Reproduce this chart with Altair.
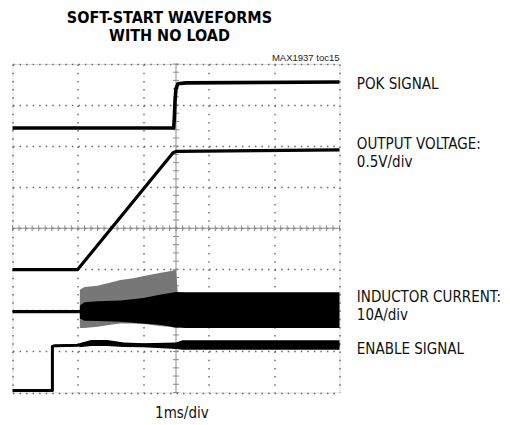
import altair as alt
import pandas as pd

# ---- traces, in scope divisions (x: 0..10 at 1ms/div, y: 0..8) ----
pok_x = [0, 4.93, 4.95, 4.97, 5.0, 5.06, 5.3, 10]
pok_y = [6.44, 6.44, 6.7, 7.1, 7.4, 7.52, 7.54, 7.56]

vout_x = [0, 1.98, 2.05, 4.91, 5.0, 10]
vout_y = [2.99, 2.99, 3.05, 5.84, 5.87, 5.91]

il_base_x = [0, 2.07]
il_base_y = [1.97, 1.97]

# inductor-current switching: spike envelope (grey) and dense core (black)
spike_x = [2.06, 2.2, 2.6, 3.0, 3.3, 3.7, 4.1, 4.5, 4.8, 5.0, 5.05]
spike_hi = [2.5, 2.57, 2.6, 2.68, 2.74, 2.78, 2.85, 2.91, 2.95, 2.99, 2.45]
spike_lo = [1.57, 1.57, 1.6, 1.65, 1.68, 1.68, 1.66, 1.62, 1.6, 1.57, 1.57]

core_x = [2.06, 2.2, 2.6, 3.3, 4.0, 4.5, 5.0, 5.3, 10]
core_hi = [2.12, 2.2, 2.22, 2.24, 2.3, 2.38, 2.45, 2.44, 2.44]
core_lo = [1.8, 1.75, 1.74, 1.72, 1.68, 1.65, 1.58, 1.57, 1.57]

en_x = [0, 1.22, 1.22, 1.3, 2.0, 2.4, 2.9, 3.4, 4.0, 5.0, 10]
en_y = [0.05, 0.05, 1.12, 1.14, 1.15, 1.21, 1.21, 1.17, 1.15, 1.15, 1.15]

en_band_x = [2.05, 2.4, 2.9, 3.4, 4.0, 5.0, 5.2, 10]
en_band_hi = [1.2, 1.28, 1.28, 1.22, 1.2, 1.22, 1.27, 1.27]
en_band_lo = [1.1, 1.13, 1.13, 1.11, 1.1, 1.06, 1.04, 1.04]

# ---- text ----
title_lines = ["SOFT-START WAVEFORMS", "WITH NO LOAD"]
title_x = [4.80, 4.80]
title_y = [9.12, 8.67]
label_text = ["POK SIGNAL", "OUTPUT VOLTAGE:", "0.5V/div",
              "INDUCTOR CURRENT:", "10A/div", "ENABLE SIGNAL"]
label_x = [10.53] * 6
label_y = [7.52, 6.04, 5.62, 2.33, 1.89, 1.06]
note_text = ["MAX1937 toc15"]
note_x = [10.0]
note_y = [8.14]
xlabel_text = ["1ms/div"]
xlabel_x = [5.18]
xlabel_y = [-0.5]

grid_x = list(range(0, 11))
grid_y = list(range(0, 9))
minor_x = [i / 5 for i in range(0, 51)]
minor_y = [i / 5 for i in range(0, 41)]

NARROW = "DejaVu Sans Condensed"

xs = alt.Scale(domain=[0, 10], nice=False, zero=False)
ys = alt.Scale(domain=[0, 8], nice=False, zero=False)


def line_df(xv, yv):
    return pd.DataFrame({"x": xv, "y": yv, "i": list(range(len(xv)))})


xaxis = alt.Axis(values=grid_x, grid=True, labels=False, ticks=False, domain=False,
                 title=None, gridDash=[1.5, 6.7], gridColor="#666", gridWidth=1.4)
yaxis = alt.Axis(values=grid_y, grid=True, labels=False, ticks=False, domain=False,
                 title=None, gridDash=[1.5, 5.04], gridColor="#666", gridWidth=1.4)

grid = alt.Chart(pd.DataFrame({"x": [0, 10], "y": [0, 8]})).mark_point(opacity=0).encode(
    x=alt.X("x:Q", scale=xs, axis=xaxis), y=alt.Y("y:Q", scale=ys, axis=yaxis))

# centre cross-hair with minor ticks
cross_v = alt.Chart(pd.DataFrame({"x": [5], "y": [0], "y2": [8]})).mark_rule(
    color="#8a8a8a", strokeWidth=1).encode(x=alt.X("x:Q", scale=xs), y=alt.Y("y:Q", scale=ys), y2="y2")
cross_h = alt.Chart(pd.DataFrame({"y": [4], "x": [0], "x2": [10]})).mark_rule(
    color="#8a8a8a", strokeWidth=1).encode(y=alt.Y("y:Q", scale=ys), x=alt.X("x:Q", scale=xs), x2="x2")
ticks_h = alt.Chart(pd.DataFrame({"x": minor_x})).mark_rule(color="#8a8a8a", strokeWidth=1).encode(
    x=alt.X("x:Q", scale=xs), y=alt.datum(3.93, scale=ys), y2=alt.datum(4.07))
ticks_v = alt.Chart(pd.DataFrame({"y": minor_y})).mark_rule(color="#8a8a8a", strokeWidth=1).encode(
    y=alt.Y("y:Q", scale=ys), x=alt.datum(4.91, scale=xs), x2=alt.datum(5.09))


def trace(xv, yv, w=3.2):
    return alt.Chart(line_df(xv, yv)).mark_line(color="black", strokeWidth=w, strokeJoin="round").encode(
        x=alt.X("x:Q", scale=xs), y=alt.Y("y:Q", scale=ys), order="i:Q")


def band(xv, lo, hi, color):
    return alt.Chart(pd.DataFrame({"x": xv, "lo": lo, "hi": hi})).mark_area(
        color=color, interpolate="linear").encode(
        x=alt.X("x:Q", scale=xs), y=alt.Y("lo:Q", scale=ys), y2="hi:Q")


def texts(t, xv, yv, **kw):
    return alt.Chart(pd.DataFrame({"t": t, "x": xv, "y": yv})).mark_text(**kw).encode(
        x=alt.X("x:Q", scale=xs), y=alt.Y("y:Q", scale=ys), text="t:N")


title = texts(title_lines, title_x, title_y, align="center", baseline="middle", font=NARROW,
              fontSize=16, fontWeight="bold", color="black")
labels = texts(label_text, label_x, label_y, align="left", baseline="middle", font=NARROW,
               fontSize=15, color="#111")
note = texts(note_text, note_x, note_y, align="right", baseline="middle",
             font="Liberation Sans, Arial, sans-serif", fontSize=9.5, color="#222")
xlabel = texts(xlabel_text, xlabel_x, xlabel_y, align="center", baseline="middle", font=NARROW,
               fontSize=15, color="#111")

chart = alt.layer(
    grid, cross_v, cross_h, ticks_h, ticks_v,
    trace(pok_x, pok_y, 3.6),
    trace(vout_x, vout_y, 3.2),
    trace(il_base_x, il_base_y, 3.2),
    band(spike_x, spike_lo, spike_hi, "#777777"),
    band(core_x, core_lo, core_hi, "black"),
    band(en_band_x, en_band_lo, en_band_hi, "black"),
    trace(en_x, en_y, 3.0),
    title, labels, note, xlabel,
).properties(
    width=327, height=328.5,
    autosize=alt.AutoSizeParams(type="none"),
    padding={"left": 4.5, "top": 56, "right": 162, "bottom": 30},
).configure_view(stroke="black", strokeWidth=3.5).configure(background="white")

chart.save("out.html", embed_options={"renderer": "svg", "actions": False})
